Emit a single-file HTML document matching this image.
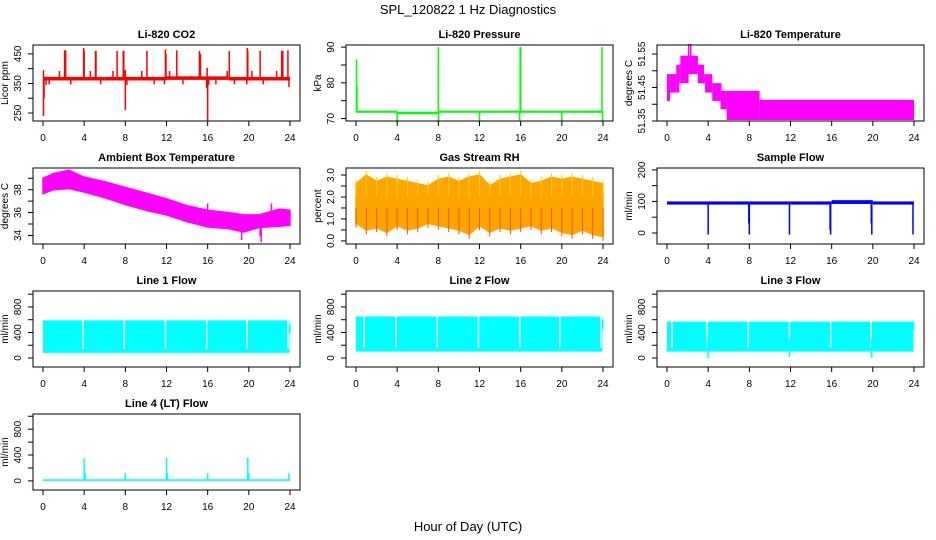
<!DOCTYPE html>
<html><head><meta charset="utf-8"><style>
html,body{margin:0;padding:0;background:#fff;}
svg{display:block;font-family:"Liberation Sans",Arial,sans-serif;}
</style></head><body>
<svg id="chart" width="936" height="540" viewBox="0 0 936 540" xmlns="http://www.w3.org/2000/svg">
<text x="468" y="14" text-anchor="middle" font-size="13">SPL_120822  1 Hz Diagnostics</text>
<text x="468" y="531" text-anchor="middle" font-size="13">Hour of Day (UTC)</text>
</svg>
<script>
// ---- data ----
const xTicks = [0,4,8,12,16,20,24];
// CO2
const co2BandT = [0,6,12,18,24];
const co2BandLo = [360,360,362,360];
const co2BandHi = [372,372,374,372];
const co2SpikeT = [2.1,2.2,3.95,4.0,5.1,5.15,7.2,7.8,7.85,10.1,11.9,11.95,13.0,15.2,15.3,18.1,19.85,19.9,21.1,23.2,23.3,23.8,1.6,3.3,4.6,6.8,8.0,9.6,12.3,14.4,17.9,20.3,22.7,0.05,0.1,0.3,0.6,2.7,5.6,8.0,8.15,10.8,11.8,13.6,15.9,16.0,16.1,16.8,18.6,19.8,21.4,23.9,0.05,15.95];
const co2SpikeV = [462,462,470,460,460,460,460,460,460,460,465,450,462,460,450,460,470,460,460,460,460,462,392,372,392,392,395,392,392,375,392,392,392,240,300,345,347,347,347,260,345,347,347,347,335,225,345,347,347,347,347,338,395,403];
// Pressure
const presBandT = [0,4,8,24];
const presBandLo = [71.6,71.2,71.6];
const presBandHi = [72.2,71.9,72.2];
const presSpikeT = [0.05,0.1,8.0,16.0,15.95,23.9,4.0,12.0,15.9,20.0,23.95,8.02];
const presSpikeV = [86.5,79,90,90,90,90,69,69,69.5,69,69,69];
// Li-820 temperature (step segments)
const tempT = [0,0.3,0.9,1.2,1.3,2.1,3.0,3.6,3.7,4.4,5.2,5.3,5.8,9.0,24];
const tempLo = [51.41,51.435,51.435,51.463,51.463,51.49,51.463,51.463,51.435,51.41,51.385,51.385,51.353,51.353];
const tempHi = [51.49,51.49,51.518,51.518,51.545,51.545,51.518,51.49,51.49,51.463,51.463,51.44,51.44,51.413];
const tempSpikeT = [2.1,2.3];
const tempSpikeV = [51.58,51.58];
// Ambient box temperature
const ambT = [0,1,2.5,4,6,8,10,12,14,16,18,19.5,21,23,24];
const ambHi = [39.0,39.4,39.7,39.1,38.7,38.2,37.7,37.2,36.6,36.2,36.0,35.8,35.8,36.3,36.2];
const ambLo = [37.65,38.0,38.1,37.8,37.3,36.7,36.2,35.8,35.2,34.75,34.6,34.3,34.7,34.8,34.9];
const ambSpikeT = [19.3,21.2,21.1,16.0,22.2];
const ambSpikeV = [33.6,33.4,33.9,36.8,36.8];
// Gas stream RH
const rhT = [0,1,2,3,4,5,6,7,8,9,10,11,12,13,14,15,16,17,18,19,20,21,22,23,24];
const rhHi = [2.6,3.0,2.7,2.9,2.8,2.7,2.6,2.5,2.8,2.9,2.7,2.9,3.0,2.5,2.8,2.9,3.0,2.6,2.7,2.9,2.8,2.9,2.8,2.7,2.6];
const rhLo = [0.8,0.5,0.6,0.4,0.7,0.5,0.6,0.8,0.7,0.6,0.5,0.3,0.7,0.4,0.6,0.5,0.6,0.7,0.5,0.6,0.4,0.3,0.5,0.3,0.2];
// Sample flow
const sfBandT = [0,16,20,24];
const sfBandLo = [90,92,90];
const sfBandHi = [100,104,100];
const sfSpikeT = [4.0,8.0,11.9,15.9,19.9,23.9,7.95,15.85,19.85];
const sfSpikeV = [-5,-5,-5,-5,-5,-5,30,10,30];
// Line flows
const l1Band = [80,590];
const l1Gaps = [3.9,7.9,11.9,15.9,19.8,23.8];
const l2Band = [100,650];
const l2Gaps = [0.8,3.9,7.9,11.9,15.9,19.8,23.8];
const l3Band = [100,570];
const l3Gaps = [0.5,3.9,7.9,11.9,15.9,19.8];
const l3DipT = [4.0,11.9,19.9];
const l3DipV = [0,20,0];
const l4Band = [0,25];
const l4SpikeT = [4.0,4.1,8.0,12.0,12.1,16.0,19.9,20.0,23.9];
const l4SpikeV = [350,120,120,360,120,120,360,120,120];

// ---- drawing ----
const svg = document.getElementById('chart');
const NS = 'http://www.w3.org/2000/svg';
const colL = [33,346,657], W = 267, rowT = [45,168,291,414], H = 76;
function mk(tag, attrs, parent){
  const e = document.createElementNS(NS, tag);
  for (const k in attrs) e.setAttribute(k, attrs[k]);
  (parent||svg).appendChild(e); return e;
}
function panel(c, r, name, title, ylab, ylim, yticks, ylabels){
  const g = mk('g', {});
  
  
  const L = colL[c], T = rowT[r];
  const sx = t => L + 10 + t/24*(W-20);
  const sy = v => T + H - (v - ylim[0])/(ylim[1]-ylim[0])*H;
  const plot = mk('g', {}, g);
  
  
  const box = mk('rect', {x:L, y:T, width:W, height:H, fill:'none', stroke:'#000', 'stroke-width':1}, g);
  
  
  const tt = mk('text', {x:L+W/2, y:T-7, 'text-anchor':'middle', 'font-size':11, 'font-weight':'bold'}, g);
  tt.textContent = title;
  
  
  const xa = mk('g', {}, g);
  
  
  mk('line', {x1:sx(0), x2:sx(24), y1:T+H, y2:T+H, stroke:'#000'}, xa);
  xTicks.forEach(t => {
    mk('line', {x1:sx(t), x2:sx(t), y1:T+H, y2:T+H+5, stroke:'#000'}, xa);
    const lb = mk('text', {x:sx(t), y:T+H+20, 'text-anchor':'middle', 'font-size':10}, xa);
    lb.textContent = t;
    
    
  });
  const ya = mk('g', {}, g);
  
  
  mk('line', {x1:L, x2:L, y1:sy(yticks[0]), y2:sy(yticks[yticks.length-1]), stroke:'#000'}, ya);
  yticks.forEach((v,i) => {
    mk('line', {x1:L-5, x2:L, y1:sy(v), y2:sy(v), stroke:'#000'}, ya);
    if (ylabels[i] !== '') {
      const lb = mk('text', {x:L-12, y:sy(v), 'text-anchor':'middle', 'font-size':10, transform:`rotate(-90 ${L-12} ${sy(v)})`}, ya);
      lb.textContent = ylabels[i];
      
      
    }
  });
  const yt = mk('text', {x:L-25, y:T+H/2, 'text-anchor':'middle', 'font-size':10, transform:`rotate(-90 ${L-25} ${T+H/2})`}, g);
  yt.textContent = ylab;
  
  
  return {sx, sy, plot};
}
function band(p, ts, lo, hi, color){
  for (let i=0;i<lo.length;i++){
    mk('rect', {x:p.sx(ts[i]), y:p.sy(hi[i]), width:Math.max(1,p.sx(ts[i+1])-p.sx(ts[i])), height:Math.max(1,p.sy(lo[i])-p.sy(hi[i])), fill:color}, p.plot);
  }
}
function envelope(p, ts, lo, hi, color){
  let d = ts.map((t,i)=>(i?'L':'M')+p.sx(t)+','+p.sy(hi[i])).join(' ');
  for (let i=ts.length-1;i>=0;i--) d += ' L'+p.sx(ts[i])+','+p.sy(lo[i]);
  mk('path', {d:d+' Z', fill:color, stroke:color, 'stroke-width':1.5}, p.plot);
}
function spikes(p, ts, vs, base, color, w){
  ts.forEach((t,i)=> mk('line', {x1:p.sx(t), x2:p.sx(t), y1:p.sy(base), y2:p.sy(vs[i]), stroke:color, 'stroke-width':w||1.5}, p.plot));
}
function gaps(p, ts, b){
  ts.forEach(t => mk('line', {x1:p.sx(t), x2:p.sx(t), y1:p.sy(b[1]), y2:p.sy(b[0])-4, stroke:'#fff', 'stroke-width':1.5}, p.plot));
}

let p;
p = panel(0,0,'co2','Li-820 CO2','Licor ppm',[223,480],[250,300,350,400,450],['250','','350','','450']);
band(p, co2BandT, co2BandLo, co2BandHi, '#ff0000');
spikes(p, co2SpikeT, co2SpikeV, 366, '#ff0000');

p = panel(1,0,'pressure','Li-820 Pressure','kPa',[69.3,90.6],[70,75,80,85,90],['70','','80','','90']);
band(p, presBandT, presBandLo, presBandHi, '#00ff00');
spikes(p, presSpikeT, presSpikeV, 72, '#00ff00');

p = panel(2,0,'li820-temperature','Li-820 Temperature','degrees C',[51.35,51.577],[51.35,51.40,51.45,51.50,51.55],['51.35','','51.45','','51.55']);
band(p, tempT, tempLo, tempHi, '#ff00ff');
spikes(p, tempSpikeT, tempSpikeV, 51.54, '#ff00ff');

p = panel(0,1,'ambient-temperature','Ambient Box Temperature','degrees C',[33.25,39.9],[34,35,36,37,38,39],['34','','36','','38','']);
envelope(p, ambT, ambLo, ambHi, '#ff00ff');
spikes(p, ambSpikeT, ambSpikeV, 35.2, '#ff00ff');

p = panel(1,1,'gas-rh','Gas Stream RH','percent',[-0.14,3.32],[0,0.5,1,1.5,2,2.5,3],['0.0','','1.0','','2.0','','3.0']);
envelope(p, rhT, rhLo, rhHi, '#ffa500');
spikes(p, rhT, rhHi.map(v=>v+0.2), 2.0, '#ffd000', 1);
spikes(p, rhT, rhLo.map(v=>v-0.2), 1.5, '#ff5000', 1);

p = panel(2,1,'sample-flow','Sample Flow','ml/min',[-35,206],[0,50,100,150,200],['0','','100','','200']);
band(p, sfBandT, sfBandLo, sfBandHi, '#0000ff');
spikes(p, sfSpikeT, sfSpikeV, 95, '#0000ff');

p = panel(0,2,'line1-flow','Line 1 Flow','ml/min',[-141,1050],[0,200,400,600,800,1000],['0','','400','','800','']);
band(p, [0,23.95], [l1Band[0]], [l1Band[1]], '#00ffff');
gaps(p, l1Gaps, l1Band);
band(p, [23.95,24.05], [380], [530], '#00ffff');

p = panel(1,2,'line2-flow','Line 2 Flow','ml/min',[-141,1050],[0,200,400,600,800,1000],['0','','400','','800','']);
band(p, [0,23.95], [l2Band[0]], [l2Band[1]], '#00ffff');
gaps(p, l2Gaps, l2Band);
band(p, [23.95,24.05], [450], [600], '#00ffff');

p = panel(2,2,'line3-flow','Line 3 Flow','ml/min',[-141,1050],[0,200,400,600,800,1000],['0','','400','','800','']);
band(p, [0,23.95], [l3Band[0]], [l3Band[1]], '#00ffff');
gaps(p, l3Gaps, l3Band);
spikes(p, l3DipT, l3DipV, 300, '#00ffff');
band(p, [23.95,24.05], [450], [560], '#00ffff');

p = panel(0,3,'line4-flow','Line 4 (LT) Flow','ml/min',[-141,1035],[0,200,400,600,800,1000],['0','','400','','800','']);
band(p, [0,24], [l4Band[0]], [l4Band[1]], '#00ffff');
spikes(p, l4SpikeT, l4SpikeV, 10, '#00ffff');
</script>
</body></html>
